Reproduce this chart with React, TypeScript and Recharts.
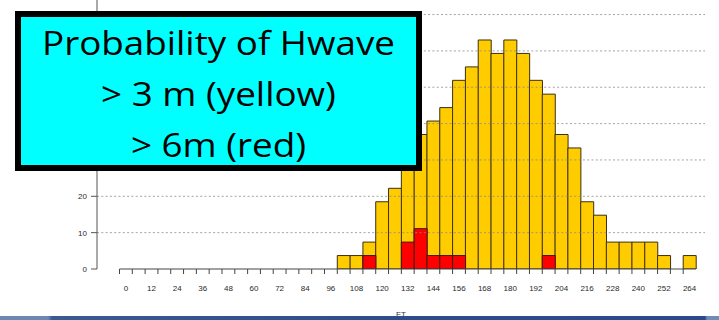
import { BarChart, Bar, XAxis, YAxis, ReferenceLine } from "recharts";

// forecast hour of each bin (6 h bins)
const hours = [
  0, 6, 12, 18, 24, 30, 36, 42, 48, 54, 60, 66, 72, 78, 84, 90, 96, 102, 108,
  114, 120, 126, 132, 138, 144, 150, 156, 162, 168, 174, 180, 186, 192, 198,
  204, 210, 216, 222, 228, 234, 240, 246, 252, 258, 264,
];

// probability (%) of Hwave > 3 m
const yellow = [
  0, 0, 0, 0, 0, 0, 0, 0, 0, 0, 0, 0, 0, 0, 0, 0, 0, 3.7, 3.7, 7.4, 18.5, 22.2,
  29.6, 37.0, 40.7, 44.4, 51.9, 55.6, 63.0, 59.3, 63.0, 59.3, 51.9, 48.1, 37.0,
  33.3, 18.5, 14.8, 7.4, 7.4, 7.4, 7.4, 3.7, 0, 3.7,
];

// probability (%) of Hwave > 6 m
const red = [
  0, 0, 0, 0, 0, 0, 0, 0, 0, 0, 0, 0, 0, 0, 0, 0, 0, 0, 0, 3.7, 0, 0, 7.4, 11.1,
  3.7, 3.7, 3.7, 0, 0, 0, 0, 0, 0, 3.7, 0, 0, 0, 0, 0, 0, 0, 0, 0, 0, 0,
];

const labelHours = [
  0, 12, 24, 36, 48, 60, 72, 84, 96, 108, 120, 132, 144, 156, 168, 180, 192,
  204, 216, 228, 240, 252, 264,
];
const yTicks = [0, 10, 20, 30, 40, 50, 60, 70];
const gridTicks = [10, 20, 30, 40, 50, 60, 70];
// labels the legend box hides in the picture
const hiddenYLabels = [30, 40, 50, 60, 70];

const data = hours.map((h, i) => ({
  hour: String(h),
  yellow: yellow[i] || null,
  red: red[i] || null,
}));

// plot spans x 97..705, bars sit in 119.5..696
const PAD_L = 22.5;
const PAD_R = 9;
const BAND = (608 - PAD_L - PAD_R) / hours.length;

const HourTick = (props: any) => {
  const { x, y, payload } = props;
  const left = x - BAND / 2;
  const right = x + BAND / 2;
  const show = labelHours.includes(Number(payload.value));
  return (
    <g>
      <line x1={left} x2={right} y1={y} y2={y} stroke="#444" strokeWidth={1} />
      <line x1={left} x2={left} y1={y} y2={y + 5} stroke="#444" strokeWidth={1} />
      {show && (
        <text
          x={x}
          y={y + 22}
          textAnchor="middle"
          fontSize={8}
          fill="#2a2a2a"
          fontFamily="'Liberation Sans', Arial, sans-serif"
        >
          {payload.value}
        </text>
      )}
    </g>
  );
};

const ValueTick = (props: any) => {
  const { x, y, payload } = props;
  if (hiddenYLabels.includes(payload.value)) return <g />;
  return (
    <text
      x={x}
      y={y}
      dy={3}
      textAnchor="end"
      fontSize={8}
      fill="#2a2a2a"
      fontFamily="'Liberation Sans', Arial, sans-serif"
    >
      {payload.value}
    </text>
  );
};

export default function App() {
  return (
    <div
      style={{
        position: "absolute",
        left: 0,
        top: 0,
        width: 719,
        height: 320,
        overflow: "hidden",
        background: "#fff",
        fontFamily: "'Liberation Sans', Arial, sans-serif",
      }}
    >
      <BarChart
        width={719}
        height={320}
        data={data}
        margin={{ top: 0, right: 14, bottom: 0, left: 0 }}
        barCategoryGap={0}
        barGap={0}
      >
        <XAxis
          xAxisId="a"
          dataKey="hour"
          interval={0}
          padding={{ left: PAD_L, right: PAD_R }}
          axisLine={false}
          tickLine={false}
          tickSize={0}
          tickMargin={0}
          height={51}
          tick={(p: any) => <HourTick {...p} />}
          label={{
            value: "FT",
            position: "insideBottom",
            offset: 3,
            fontSize: 8,
            fill: "#333",
          }}
        />
        <XAxis
          xAxisId="b"
          dataKey="hour"
          hide
          padding={{ left: PAD_L, right: PAD_R }}
        />
        <YAxis
          domain={[0, 74]}
          ticks={yTicks}
          allowDataOverflow
          width={97}
          tickSize={6}
          tickMargin={4}
          axisLine={{ stroke: "#555", strokeWidth: 1 }}
          tickLine={{ stroke: "#555", strokeWidth: 1 }}
          tick={(p: any) => <ValueTick {...p} />}
        />
        <Bar
          xAxisId="a"
          dataKey="yellow"
          fill="#FFCC00"
          stroke="#3b2f12"
          strokeWidth={1}
          isAnimationActive={false}
        />
        <Bar
          xAxisId="b"
          dataKey="red"
          fill="#FF0000"
          stroke="#3b1a12"
          strokeWidth={1}
          isAnimationActive={false}
        />
        {gridTicks.map((v) => (
          <ReferenceLine
            key={v}
            xAxisId="a"
            y={v}
            stroke="#8c8c8c"
            strokeOpacity={0.8}
            strokeDasharray="2 2.3"
          />
        ))}
      </BarChart>

      <div
        style={{
          position: "absolute",
          left: 15,
          top: 11,
          width: 407,
          height: 160,
          boxSizing: "border-box",
          border: "6px solid #000",
          background: "#00FFFF",
          color: "#000",
          fontFamily: "'Open Sans', sans-serif",
          fontSize: 32,
          lineHeight: "51px",
          textAlign: "center",
        }}
      >
        <div style={{ transform: "scaleX(1.15)", transformOrigin: "center" }}>
          <div>Probability of Hwave</div>
          <div>&gt; 3 m (yellow)</div>
          <div>&gt; 6m (red)</div>
        </div>
      </div>

      <div
        style={{
          position: "absolute",
          left: 0,
          top: 315.5,
          width: 719,
          height: 5,
          background:
            "linear-gradient(to right, #6d88b2 0px, #6d88b2 48px, #3a5a92 52px, #2d4c8a 400px, #2b4a8b 705px, #6f8cb8 707px, #6f8cb8 719px)",
        }}
      />
    </div>
  );
}
